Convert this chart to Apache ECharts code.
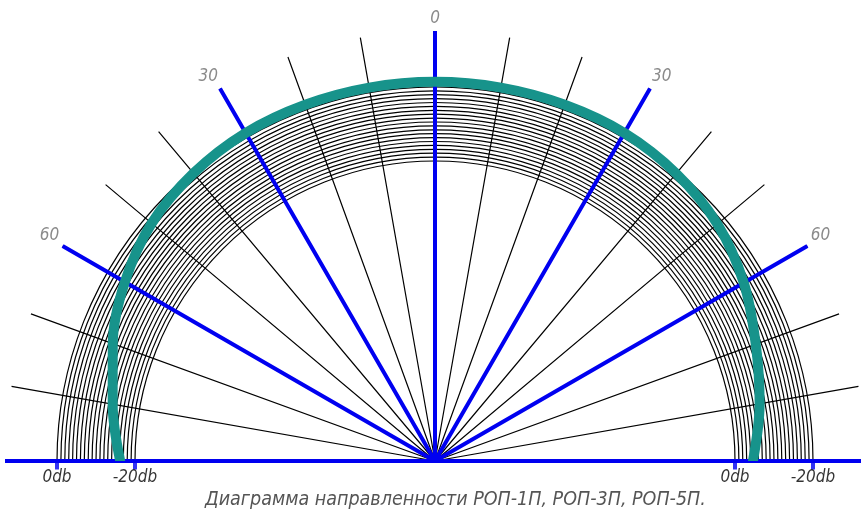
<!DOCTYPE html>
<html><head><meta charset="utf-8">
<script src="https://cdn.jsdelivr.net/npm/echarts@6/dist/echarts.min.js"></script>
<style>html,body{margin:0;padding:0;background:#fff}#c{width:861px;height:512px}</style>
</head><body><div id="c"></div>
<script>
// ---- data ----
const patternAngles = [-90,-80,-70,-60,-50,-40,-30,-20,-10,0,10,20,30,40,50,60,70,80,90];
const patternDb     = [-16.2,-13.0,-9.0,-5.1,-2.1,-0.6,0.2,0.3,0.3,0.3,0.3,0.3,0.2,-0.7,-2.4,-5.5,-9.4,-12.4,-15.4];
const dbMin = -20;
const dbMax = 0;
const dbStep = 1;
const angleMin = -90;
const angleMax = 90;
const gridAngleStep = 10;
const mainAngleStep = 30;
const tickLabels = ['0db', '-20db'];
const leftTickDb = [0, -20];
const rightTickDb = [-20, 0];
const titleText = 'Диаграмма направленности РОП-1П, РОП-3П, РОП-5П.';

// ---- layout ----
const CX = 435, CY = 461, R_IN = 300, R_OUT = 378, R_MAX = 430;
const PX_PER_DB = (R_OUT - R_IN) / (dbMax - dbMin);
const FONT = '"DejaVu Sans Condensed", "Liberation Sans Narrow", "Liberation Sans", sans-serif';

const tickData = [];
leftTickDb.forEach((d, i) => tickData.push({ value: [d, angleMin], name: tickLabels[i] }));
rightTickDb.forEach((d, i) => tickData.push({ value: [d, angleMax], name: tickLabels[i] }));

const angleBase = { min: angleMin, max: angleMax, startAngle: 180, endAngle: 0, clockwise: true };
const hiddenAngle = (idx) => Object.assign({ polarIndex: idx, interval: gridAngleStep,
  axisLine: { show: false }, axisTick: { show: false }, axisLabel: { show: false }, splitLine: { show: false } }, angleBase);
const hiddenRadius = (idx, min, max) => ({ polarIndex: idx, min, max,
  axisLine: { show: false }, axisTick: { show: false }, axisLabel: { show: false }, splitLine: { show: false } });

const chart = echarts.init(document.getElementById('c'), null, { renderer: 'canvas' });
chart.setOption({
  animation: false,
  backgroundColor: '#fff',
  title: {
    text: titleText, left: 200, top: 485,
    textStyle: { fontStyle: 'italic', fontWeight: 'normal', color: '#555', fontSize: 19.5, fontFamily: FONT }
  },
  polar: [
    { center: [CX, CY], radius: R_MAX },
    { center: [CX, CY], radius: [R_IN, R_OUT] },
    { center: [CX, CY], radius: R_MAX },
    { center: [CX, CY], radius: R_MAX }
  ],
  angleAxis: [
    Object.assign({ polarIndex: 0, interval: gridAngleStep, z: 1,
      axisLine: { show: false }, axisTick: { show: false }, axisLabel: { show: false },
      splitLine: { show: true, lineStyle: { color: '#000', width: 1.2 } } }, angleBase),
    hiddenAngle(1),
    Object.assign({ polarIndex: 2, interval: mainAngleStep, z: 3,
      axisLine: { show: false }, axisTick: { show: false },
      axisLabel: { show: true, margin: 4, color: '#8a8a8a', fontSize: 17, fontStyle: 'italic', fontFamily: FONT,
        formatter: v => (Math.abs(v) === 90 ? '' : String(Math.abs(v))) },
      splitLine: { show: true, lineStyle: { color: '#0000f0', width: 4 } } }, angleBase),
    hiddenAngle(3)
  ],
  radiusAxis: [
    hiddenRadius(0, 0, 1),
    { polarIndex: 1, min: dbMin, max: dbMax, interval: dbStep, z: 2,
      axisLine: { show: false }, axisTick: { show: false }, axisLabel: { show: false },
      splitLine: { show: true, lineStyle: { color: '#000', width: 1.2 } } },
    hiddenRadius(2, 0, 1),
    hiddenRadius(3, dbMin - R_IN / PX_PER_DB, dbMax + (R_MAX - R_OUT) / PX_PER_DB)
  ],
  series: [
    {
      type: 'scatter', coordinateSystem: 'polar', polarIndex: 3, z: 5,
      symbol: 'rect', symbolSize: [4, 9], symbolOffset: [0, 4],
      itemStyle: { color: '#0000f0' },
      label: { show: true, position: 'bottom', distance: 0, formatter: p => p.name,
        color: '#000', fontSize: 17, fontStyle: 'italic', fontFamily: FONT },
      data: tickData
    },
    {
      type: 'line', coordinateSystem: 'polar', polarIndex: 3, z: 10, zlevel: 1,
      smooth: 0.34, symbol: 'none', clip: false,
      lineStyle: { color: '#17938b', width: 10, cap: 'round' },
      data: patternDb.map((d, i) => [d, patternAngles[i]])
    }
  ]
});
</script></body></html>
